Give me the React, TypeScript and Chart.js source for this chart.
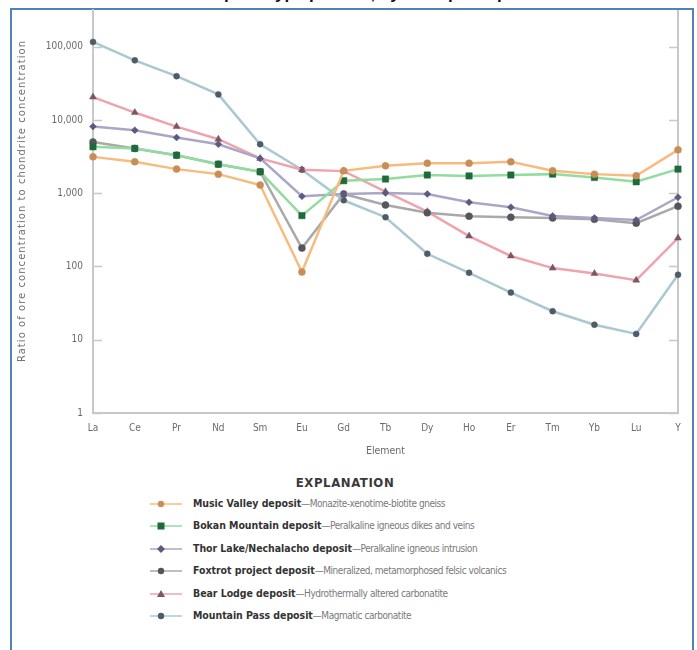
import React, { useEffect, useRef } from "react";
import { Chart, registerables } from "chart.js";

Chart.register(...registerables);

const elements = ["La", "Ce", "Pr", "Nd", "Sm", "Eu", "Gd", "Tb", "Dy", "Ho", "Er", "Tm", "Yb", "Lu", "Y"];
const yTickValues = [1, 10, 100, 1000, 10000, 100000];

const musicValley = [3130, 2680, 2130, 1820, 1290, 84, 2020, 2360, 2570, 2570, 2680, 2020, 1820, 1730, 3900];
const bokanMountain = [4300, 4080, 3300, 2490, 1960, 494, 1480, 1560, 1770, 1720, 1770, 1820, 1640, 1430, 2130];
const thorLake = [8100, 7220, 5750, 4660, 2980, 908, 975, 1006, 975, 752, 643, 490, 460, 430, 880];
const foxtrot = [5000, 4080, 3300, 2490, 1960, 178, 975, 690, 540, 486, 470, 460, 440, 390, 664];
const bearLodge = [20500, 12600, 8100, 5450, 2980, 2090, 2000, 1050, 560, 260, 139, 95, 80, 65, 244];
const mountainPass = [116000, 65000, 39500, 22300, 4660, 2090, 800, 470, 149, 82, 44, 24.5, 16, 12, 77];

const seriesNames = [
  "Music Valley deposit",
  "Bokan Mountain deposit",
  "Thor Lake/Nechalacho deposit",
  "Foxtrot project deposit",
  "Bear Lodge deposit",
  "Mountain Pass deposit",
];
const seriesNotes = [
  "Monazite-xenotime-biotite gneiss",
  "Peralkaline igneous dikes and veins",
  "Peralkaline igneous intrusion",
  "Mineralized, metamorphosed felsic volcanics",
  "Hydrothermally altered carbonatite",
  "Magmatic carbonatite",
];
const seriesValues = [musicValley, bokanMountain, thorLake, foxtrot, bearLodge, mountainPass];
const lineColors = ["#f8bb7e", "#93dca0", "#aaa7c6", "#a9a9a9", "#f0a3ad", "#a9c8d2"];
const markerColors = ["#c98e58", "#1f6a3b", "#5d5a80", "#55555c", "#7d5566", "#4f5b68"];
const markerStyles = ["circle", "rect", "rectRot", "circle", "triangle", "circle"];
const markerSizes = [3.5, 4.5, 3.5, 3.5, 4, 3];

const FONT = "'Liberation Sans Narrow', 'DejaVu Sans Condensed', 'Liberation Sans', sans-serif";

const innerTicks = {
  id: "innerTicks",
  beforeDatasetsDraw(chart: any) {
    const { ctx, chartArea } = chart;
    const y = chart.scales.y;
    ctx.save();
    ctx.strokeStyle = "#c8c8c8";
    ctx.lineWidth = 1.5;
    yTickValues.forEach((v) => {
      const py = Math.round(y.getPixelForValue(v)) + 0.5;
      ctx.beginPath();
      ctx.moveTo(chartArea.left, py);
      ctx.lineTo(chartArea.left + 9, py);
      ctx.moveTo(chartArea.right - 9, py);
      ctx.lineTo(chartArea.right, py);
      ctx.stroke();
    });
    ctx.lineWidth = 2;
    ctx.beginPath();
    ctx.moveTo(chartArea.right, chartArea.top);
    ctx.lineTo(chartArea.right, chartArea.bottom);
    ctx.stroke();
    ctx.restore();
  },
};

function LegendMarker({ i }: { i: number }) {
  const c = markerColors[i];
  const cx = 161;
  const cy = 6;
  let shape: any;
  if (markerStyles[i] === "rect") shape = <rect x={cx - 3.5} y={cy - 3.5} width={7} height={7} fill={c} />;
  else if (markerStyles[i] === "rectRot") shape = <polygon points={`${cx},${cy - 4} ${cx + 4},${cy} ${cx},${cy + 4} ${cx - 4},${cy}`} fill={c} />;
  else if (markerStyles[i] === "triangle") shape = <polygon points={`${cx},${cy - 4} ${cx + 4},${cy + 3} ${cx - 4},${cy + 3}`} fill={c} />;
  else shape = <circle cx={cx} cy={cy} r={3.2} fill={c} />;
  return (
    <svg width={40} height={12} viewBox="145 0 40 12" style={{ position: "absolute", left: 145, top: 0 }}>
      <line x1={150} y1={cy} x2={182} y2={cy} stroke={lineColors[i]} strokeWidth={1.5} />
      {shape}
    </svg>
  );
}

export default function App() {
  const canvasRef = useRef<HTMLCanvasElement | null>(null);

  useEffect(() => {
    const canvas = canvasRef.current;
    if (!canvas) return;
    const chart = new Chart(canvas, {
      type: "line",
      data: {
        labels: elements,
        datasets: seriesValues.map((vals, i) => ({
          label: seriesNames[i],
          data: vals,
          borderColor: lineColors[i],
          borderWidth: 2.5,
          pointStyle: markerStyles[i] as any,
          pointRadius: markerSizes[i],
          pointBackgroundColor: markerColors[i],
          pointBorderColor: markerColors[i],
          pointBorderWidth: 0.5,
          tension: 0,
          fill: false,
        })),
      },
      options: {
        animation: false,
        responsive: false,
        devicePixelRatio: 1,
        layout: { padding: { top: 10, right: 17, left: 0, bottom: 0 } },
        plugins: { legend: { display: false }, tooltip: { enabled: false }, title: { display: false } },
        scales: {
          x: {
            type: "category",
            offset: false,
            grid: { display: false, drawTicks: false },
            border: { display: true, color: "#c8c8c8", width: 2 },
            ticks: { color: "#6a6a6a", padding: 9, autoSkip: false, maxRotation: 0, font: { family: FONT, size: 10 } },
            title: { display: true, text: "Element", color: "#6a6a6a", font: { family: FONT, size: 10.5 }, padding: { top: 0, bottom: 5 } },
            afterFit: (s: any) => {
              s.height = 50;
            },
          },
          y: {
            type: "logarithmic",
            min: 1,
            max: 316228,
            grid: { display: true, drawOnChartArea: false, drawTicks: true, tickLength: 10, color: "rgba(0,0,0,0)" },
            border: { display: true, color: "#c8c8c8", width: 2 },
            afterBuildTicks: (s: any) => {
              s.ticks = yTickValues.map((v) => ({ value: v, major: true }));
            },
            ticks: {
              color: "#6a6a6a",
              padding: 0,
              font: { family: FONT, size: 10 },
              callback: (v: any) => Number(v).toLocaleString("en-US"),
            },
            afterFit: (s: any) => {
              s.width = 83;
            },
          },
        },
      },
      plugins: [innerTicks],
    });
    return () => chart.destroy();
  }, []);

  return (
    <div style={{ position: "absolute", left: 0, top: 0, width: 697, height: 650, overflow: "hidden", background: "#fff", fontFamily: FONT }}>
      <div
        style={{
          position: "absolute",
          left: 0,
          width: 740,
          top: -16,
          textAlign: "center",
          fontFamily: "'Liberation Sans', sans-serif",
          fontWeight: 700,
          fontSize: 17,
          color: "#111",
          whiteSpace: "nowrap",
        }}
      >
        Deposit type profiles, by example deposit
      </div>
      <div style={{ position: "absolute", left: 10, top: 8, width: 680, height: 700, border: "2px solid #4f81bd" }} />
      <canvas ref={canvasRef} width={685} height={463} style={{ position: "absolute", left: 10, top: 0 }} />
      <div
        style={{
          position: "absolute",
          left: 22 - 180,
          top: 201 - 7,
          width: 360,
          height: 14,
          lineHeight: "14px",
          textAlign: "center",
          transform: "rotate(-90deg)",
          fontSize: 11,
          letterSpacing: 1.1,
          color: "#707070",
          whiteSpace: "nowrap",
        }}
      >
        Ratio of ore concentration to chondrite concentration
      </div>
      <div style={{ position: "absolute", left: 0, width: 690, top: 475, textAlign: "center", fontWeight: 700, fontSize: 13, color: "#3a3a3a", letterSpacing: 0.6 }}>
        EXPLANATION
      </div>
      {seriesNames.map((name, i) => (
        <div key={name} style={{ position: "absolute", left: 0, top: 498 + i * 22.4, width: 697, height: 14 }}>
          <LegendMarker i={i} />
          <div style={{ position: "absolute", left: 193, top: -1, whiteSpace: "nowrap", color: "#7a7a7a", fontSize: 10, letterSpacing: -0.45 }}>
            <span style={{ fontWeight: 700, color: "#333", fontSize: 10.5, letterSpacing: -0.05 }}>{name}</span>
            {"\u2014" + seriesNotes[i]}
          </div>
        </div>
      ))}
    </div>
  );
}
